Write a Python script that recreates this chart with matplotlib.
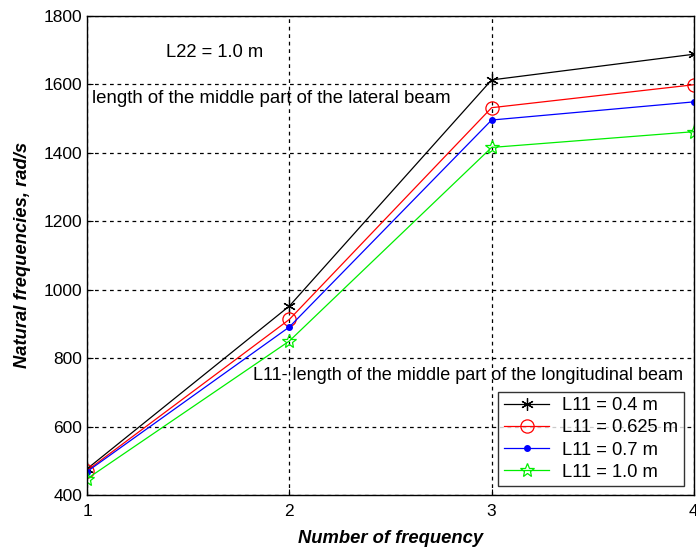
import matplotlib
matplotlib.use("Agg")
import matplotlib.pyplot as plt

plt.rcParams["font.family"] = ["Liberation Sans", "DejaVu Sans"]

# frequency index and natural frequencies (rad/s) for each L11 length
freq_number = [1, 2, 3, 4]
freq_l11_04 = [477, 952, 1612, 1687]
freq_l11_0625 = [472, 913, 1531, 1598]
freq_l11_07 = [469, 891, 1495, 1548]
freq_l11_10 = [448, 850, 1415, 1461]

legend_labels = ["L11 = 0.4 m", "L11 = 0.625 m", "L11 = 0.7 m", "L11 = 1.0 m"]
y_ticks = [400, 600, 800, 1000, 1200, 1400, 1600, 1800]
x_ticks = [1, 2, 3, 4]

fig = plt.figure(figsize=(6.96, 5.48), dpi=100)
ax = fig.add_axes([0.125, 0.0962, 0.872, 0.8755])

ax.plot(freq_number, freq_l11_04, color="black", lw=0.9,
        marker=(6, 2, 0), ms=9, mew=0.9, label=legend_labels[0])
ax.plot(freq_number, freq_l11_0625, color="red", lw=0.9,
        marker="o", ms=9.5, mfc="none", mew=0.9, label=legend_labels[1])
ax.plot(freq_number, freq_l11_07, color="blue", lw=0.9,
        marker=".", ms=8, label=legend_labels[2])
ax.plot(freq_number, freq_l11_10, color="#00ee00", lw=0.9,
        marker="*", ms=10, mfc="none", mew=0.9, label=legend_labels[3])

ax.set_xlim(1, 4)
ax.set_ylim(400, 1800)
ax.set_xticks(x_ticks)
ax.set_yticks(y_ticks)
ax.tick_params(direction="in", length=4, labelsize=12.5, colors="black")
ax.tick_params(axis="x", pad=6)
ax.grid(True, color="black", linestyle=(0, (3, 3)), linewidth=0.9)
for sp in ax.spines.values():
    sp.set_linewidth(1.0)

ax.set_xlabel("Number of frequency", fontsize=13.2, fontweight="bold",
              fontstyle="italic", labelpad=8)
ax.set_ylabel("Natural frequencies, rad/s", fontsize=13.2, fontweight="bold",
              fontstyle="italic", labelpad=9)

ax.text(1.39, 1693, "L22 = 1.0 m", fontsize=13.2, va="center", ha="left")
ax.text(1.025, 1557, "length of the middle part of the lateral beam",
        fontsize=13.4, va="center", ha="left")
ax.text(1.82, 750, "L11- length of the middle part of the longitudinal beam",
        fontsize=13.0, va="center", ha="left")

leg = ax.legend(loc="lower right", fontsize=13.2, frameon=True, fancybox=False,
                edgecolor="black", borderpad=0.3, labelspacing=0.28,
                handlelength=2.5, handletextpad=0.7, borderaxespad=0,
                bbox_to_anchor=(0.9835, 0.019))
leg.get_frame().set_linewidth(1.0)

fig.savefig("out.png", dpi=100)
